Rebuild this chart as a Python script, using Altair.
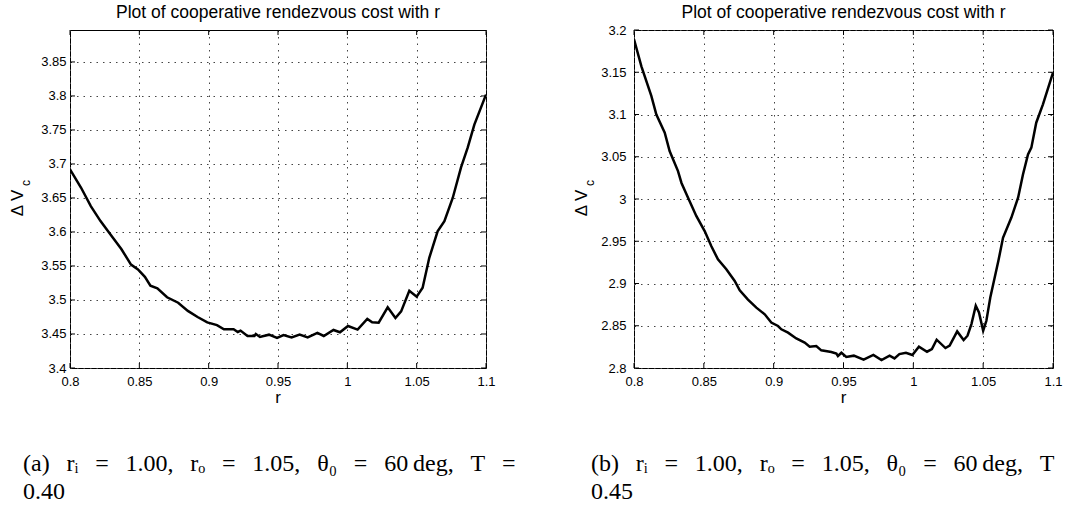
import altair as alt
import pandas as pd

# ---- data ----
r_a = [0.800, 0.808, 0.815, 0.822, 0.830, 0.837, 0.844, 0.849, 0.854, 0.858,
       0.863, 0.870, 0.878, 0.885, 0.892, 0.899, 0.906, 0.911, 0.918, 0.921,
       0.923, 0.928, 0.933, 0.934, 0.937, 0.9435, 0.9493, 0.954, 0.9598, 0.9656,
       0.9714, 0.9784, 0.983, 0.990, 0.9947, 1.0005, 1.0074, 1.0144, 1.0179, 1.0226,
       1.0291, 1.0347, 1.0388, 1.0447, 1.050, 1.0543, 1.0591, 1.0651, 1.070, 1.076,
       1.082, 1.0868, 1.0916, 1.100]
v_a = [3.692, 3.665, 3.638, 3.616, 3.594, 3.575, 3.552, 3.545, 3.534, 3.521,
       3.517, 3.504, 3.496, 3.484, 3.475, 3.467, 3.463, 3.457, 3.457, 3.453,
       3.455, 3.447, 3.447, 3.450, 3.4456, 3.449, 3.4441, 3.4485, 3.4451, 3.449,
       3.4451, 3.4515, 3.4471, 3.4559, 3.4525, 3.4618, 3.4564, 3.4721, 3.4672, 3.4667,
       3.4892, 3.4735, 3.4833, 3.5137, 3.5049, 3.518, 3.562, 3.601, 3.616, 3.650,
       3.695, 3.724, 3.758, 3.802]

r_b = [0.800, 0.8053, 0.8124, 0.816, 0.822, 0.8255, 0.8315, 0.834, 0.8387, 0.8446,
       0.8506, 0.8554, 0.8601, 0.8661, 0.8721, 0.8757, 0.8816, 0.8876, 0.8936, 0.8983,
       0.9031, 0.9055, 0.9103, 0.9162, 0.9222, 0.9258, 0.9305, 0.9341, 0.9413, 0.9449,
       0.946, 0.9485, 0.952, 0.9574, 0.9644, 0.9714, 0.9772, 0.983, 0.9865, 0.990,
       0.9947, 0.9993, 1.004, 1.0098, 1.0133, 1.0167, 1.023, 1.026, 1.0314, 1.036,
       1.0388, 1.0416, 1.0447, 1.047, 1.050, 1.0523, 1.0551, 1.0609, 1.0642, 1.0702,
       1.075, 1.0785, 1.0821, 1.0845, 1.088, 1.0928, 1.100]
v_b = [3.189, 3.157, 3.122, 3.100, 3.0785, 3.0568, 3.033, 3.019, 3.0016, 2.980,
       2.962, 2.944, 2.9286, 2.9168, 2.903, 2.892, 2.881, 2.8714, 2.8635, 2.8537,
       2.8497, 2.8458, 2.8418, 2.835, 2.830, 2.8252, 2.826, 2.8209, 2.819, 2.817,
       2.8142, 2.818, 2.813, 2.8146, 2.8098, 2.8154, 2.8094, 2.8146, 2.8114, 2.8165,
       2.8181, 2.8154, 2.8252, 2.8193, 2.8224, 2.8335, 2.8236, 2.8264, 2.8433, 2.8331,
       2.8382, 2.852, 2.8736, 2.8657, 2.8441, 2.8559, 2.8835, 2.9268, 2.954, 2.978,
       3.0016, 3.029, 3.0528, 3.0608, 3.0903, 3.112, 3.1495]

x_ticks = [0.8, 0.85, 0.9, 0.95, 1.0, 1.05, 1.1]
y_ticks_a = [3.4, 3.45, 3.5, 3.55, 3.6, 3.65, 3.7, 3.75, 3.8, 3.85]
y_ticks_b = [2.8, 2.85, 2.9, 2.95, 3.0, 3.05, 3.1, 3.15, 3.2]
y_domain_a = [3.4, 3.897]
y_domain_b = [2.8, 3.2]

title_text = "Plot of cooperative rendezvous cost with r"
x_title = "r"
y_title_main = "\u0394 V"
y_title_sub = "c"
G = "\u2002\u2009"  # stretched (justified) inter-word gap
caption_a = ["(a)" + G + "r\u1d62" + G + "=" + G + "1.00," + G + "r\u2092" + G + "=" + G + "1.05,"
             + G + "\u03b8\u2080" + G + "=" + G + "60\u2009deg," + G + "T" + G + "=", "0.40"]
caption_b = ["(b)" + G + "r\u1d62" + G + "=" + G + "1.00," + G + "r\u2092" + G + "=" + G + "1.05,"
             + G + "\u03b8\u2080" + G + "=" + G + "60\u2009deg," + G + "T" + G + "=", "0.45"]

SANS = "Liberation Sans"
SERIF = "Liberation Serif"
H = 338


def panel(r, v, ydom, yticks, W, lab_pad, caption, cap_dx, cap_limit=0, anchor=False):
    df = pd.DataFrame({"r": r, "v": v})
    xs = alt.Scale(domain=[0.8, 1.1], nice=False, zero=False)
    ys = alt.Scale(domain=ydom, nice=False, zero=False)
    xaxis = alt.Axis(values=x_ticks, format="~g", title=None, domain=False, ticks=False,
                     tickSize=0, labelPadding=7, labelFont=SANS, labelFontSize=13,
                     labelColor="black", grid=True, gridDash=[1.5, 5], gridColor="#444",
                     gridWidth=1, labelFlush=False)
    yaxis = alt.Axis(values=yticks, format="~g", title=None, domain=False, ticks=False,
                     tickSize=0, labelPadding=lab_pad, labelFont=SANS, labelFontSize=13,
                     labelColor="black", grid=True, gridDash=[1.5, 5], gridColor="#444",
                     gridWidth=1, labelFlush=False, labelOverlap=False)
    line = alt.Chart(df).mark_line(color="black", strokeWidth=2.5, clip=True).encode(
        x=alt.X("r:Q", scale=xs, axis=xaxis),
        y=alt.Y("v:Q", scale=ys, axis=yaxis),
    )
    xt = pd.DataFrame({"r": x_ticks})
    yt = pd.DataFrame({"v": yticks})
    tick_b = alt.Chart(xt).mark_rule(color="black", strokeWidth=1).encode(
        x=alt.X("r:Q", scale=xs, axis=xaxis), y=alt.value(H), y2=alt.value(H - 5))
    tick_t = alt.Chart(xt).mark_rule(color="black", strokeWidth=1).encode(
        x=alt.X("r:Q", scale=xs, axis=xaxis), y=alt.value(0), y2=alt.value(5))
    tick_l = alt.Chart(yt).mark_rule(color="black", strokeWidth=1).encode(
        y=alt.Y("v:Q", scale=ys, axis=yaxis), x=alt.value(0), x2=alt.value(5))
    tick_r = alt.Chart(yt).mark_rule(color="black", strokeWidth=1).encode(
        y=alt.Y("v:Q", scale=ys, axis=yaxis), x=alt.value(W), x2=alt.value(W - 5))

    ttl = alt.Chart(pd.DataFrame({"t": [title_text]})).mark_text(
        font=SANS, fontSize=17.5, color="black", align="center", baseline="alphabetic"
    ).encode(text="t:N", x=alt.value(W / 2), y=alt.value(-12))
    xl = alt.Chart(pd.DataFrame({"t": [x_title]})).mark_text(
        font=SANS, fontSize=17, color="black", align="center", baseline="alphabetic"
    ).encode(text="t:N", x=alt.value(W / 2), y=alt.value(H + 35))
    yl = alt.Chart(pd.DataFrame({"t": [y_title_main]})).mark_text(
        font=SANS, fontSize=17, color="black", align="center", baseline="alphabetic", angle=270
    ).encode(text="t:N", x=alt.value(-47), y=alt.value(173))
    ys_ = alt.Chart(pd.DataFrame({"t": [y_title_sub]})).mark_text(
        font=SANS, fontSize=12, color="black", align="center", baseline="alphabetic", angle=270
    ).encode(text="t:N", x=alt.value(-40), y=alt.value(153))
    cap_kw = dict(font=SERIF, fontSize=24, color="black", align="left", baseline="alphabetic")
    if cap_limit:
        cap_kw.update(limit=cap_limit, ellipsis="\u200b")
    cap1 = alt.Chart(pd.DataFrame({"t": [caption[0]]})).mark_text(**cap_kw).encode(
        text="t:N", x=alt.value(cap_dx), y=alt.value(441))
    cap2 = alt.Chart(pd.DataFrame({"t": [caption[1]]})).mark_text(
        font=SERIF, fontSize=24, color="black", align="left", baseline="alphabetic"
    ).encode(text="t:N", x=alt.value(cap_dx), y=alt.value(469))

    layers = [line, tick_b, tick_t, tick_l, tick_r, ttl, xl, yl, ys_, cap1, cap2]
    if anchor:
        anc = alt.Chart(pd.DataFrame({"a": [0]})).mark_rule(
            strokeOpacity=0, strokeWidth=0.01
        ).encode(x=alt.value(-69), x2=alt.value(-69), y=alt.value(-29), y2=alt.value(-28))
        layers.append(anc)
    return alt.layer(*layers).properties(width=W, height=H)


left = panel(r_a, v_a, y_domain_a, y_ticks_a, 416, 4, caption_a, -47, anchor=True)
right = panel(r_b, v_b, y_domain_b, y_ticks_b, 419, 8, caption_b, -43, cap_limit=1076 - 590)

chart = alt.hconcat(left, right, spacing=148, bounds="flush").properties(
    padding={"left": 0, "top": 0, "right": 0, "bottom": 0}, background="white"
).configure_view(stroke="black", strokeWidth=1)

chart.save("out.html", embed_options={"renderer": "svg", "actions": False})
